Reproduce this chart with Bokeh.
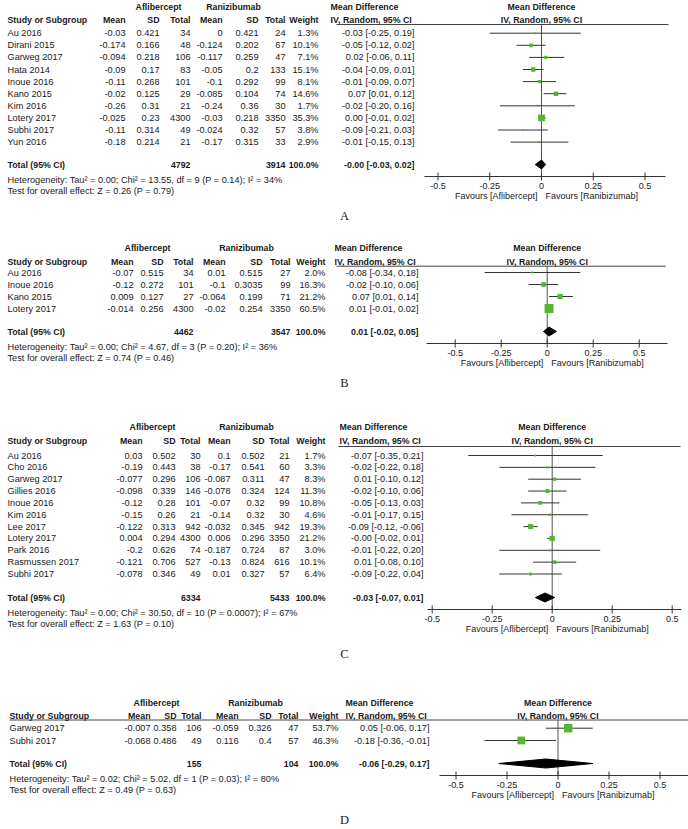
from bokeh.plotting import figure
from bokeh.models import ColumnDataSource, Range1d
from bokeh.core.properties import value
from bokeh.embed import file_html
from bokeh.resources import INLINE

# ---------------------------------------------------------------- data
TICKS = [-0.5, -0.25, 0.0, 0.25, 0.5]
TICK_LABELS = ["-0.5", "-0.25", "0", "0.25", "0.5"]
GROUP_AFL = "Aflibercept"
GROUP_RAN = "Ranizibumab"
FAV_LEFT = "Favours [Aflibercept]"
FAV_RIGHT = "Favours [Ranibizumab]"

# Panel A
A_study = ["Au 2016", "Dirani 2015", "Garweg 2017", "Hata 2014", "Inoue 2016",
           "Kano 2015", "Kim 2016", "Lotery 2017", "Subhi 2017", "Yun 2016"]
A_afl_mean = ["-0.03", "-0.174", "-0.094", "-0.09", "-0.11", "-0.02", "-0.26", "-0.025", "-0.11", "-0.18"]
A_afl_sd = ["0.421", "0.166", "0.218", "0.17", "0.268", "0.125", "0.31", "0.23", "0.314", "0.214"]
A_afl_n = [34, 48, 106, 83, 101, 29, 21, 4300, 49, 21]
A_ran_mean = ["0", "-0.124", "-0.117", "-0.05", "-0.1", "-0.085", "-0.24", "-0.03", "-0.024", "-0.17"]
A_ran_sd = ["0.421", "0.202", "0.259", "0.2", "0.292", "0.104", "0.36", "0.218", "0.32", "0.315"]
A_ran_n = [24, 67, 47, 133, 99, 74, 30, 3350, 57, 33]
A_weight = [1.3, 10.1, 7.1, 15.1, 8.1, 14.6, 1.7, 35.3, 3.8, 2.9]
A_md = [-0.03, -0.05, 0.02, -0.04, -0.01, 0.07, -0.02, 0.00, -0.09, -0.01]
A_lo = [-0.25, -0.12, -0.06, -0.09, -0.09, 0.01, -0.20, -0.01, -0.21, -0.15]
A_hi = [0.19, 0.02, 0.11, 0.01, 0.07, 0.12, 0.16, 0.02, 0.03, 0.13]
A_tot_afl_n, A_tot_ran_n = 4792, 3914
A_tot_md, A_tot_lo, A_tot_hi = -0.0, -0.03, 0.02
A_het = "Heterogeneity: Tau\u00b2 = 0.00; Chi\u00b2 = 13.55, df = 9 (P = 0.14); I\u00b2 = 34%"
A_test = "Test for overall effect: Z = 0.26 (P = 0.79)"

# Panel B
B_study = ["Au 2016", "Inoue 2016", "Kano 2015", "Lotery 2017"]
B_afl_mean = ["-0.07", "-0.12", "0.009", "-0.014"]
B_afl_sd = ["0.515", "0.272", "0.127", "0.256"]
B_afl_n = [34, 101, 27, 4300]
B_ran_mean = ["0.01", "-0.1", "-0.064", "-0.02"]
B_ran_sd = ["0.515", "0.3035", "0.199", "0.254"]
B_ran_n = [27, 99, 71, 3350]
B_weight = [2.0, 16.3, 21.2, 60.5]
B_md = [-0.08, -0.02, 0.07, 0.01]
B_lo = [-0.34, -0.10, 0.01, -0.01]
B_hi = [0.18, 0.06, 0.14, 0.02]
B_tot_afl_n, B_tot_ran_n = 4462, 3547
B_tot_md, B_tot_lo, B_tot_hi = 0.01, -0.02, 0.05
B_het = "Heterogeneity: Tau\u00b2 = 0.00; Chi\u00b2 = 4.67, df = 3 (P = 0.20); I\u00b2 = 36%"
B_test = "Test for overall effect: Z = 0.74 (P = 0.46)"

# Panel C
C_study = ["Au 2016", "Cho 2016", "Garweg 2017", "Gillies 2016", "Inoue 2016", "Kim 2016",
           "Lee 2017", "Lotery 2017", "Park 2016", "Rasmussen 2017", "Subhi 2017"]
C_afl_mean = ["0.03", "-0.19", "-0.077", "-0.098", "-0.12", "-0.15", "-0.122", "0.004", "-0.2", "-0.121", "-0.078"]
C_afl_sd = ["0.502", "0.443", "0.296", "0.339", "0.28", "0.26", "0.313", "0.294", "0.626", "0.706", "0.346"]
C_afl_n = [30, 38, 106, 146, 101, 21, 942, 4300, 74, 527, 49]
C_ran_mean = ["0.1", "-0.17", "-0.087", "-0.078", "-0.07", "-0.14", "-0.032", "0.006", "-0.187", "-0.13", "0.01"]
C_ran_sd = ["0.502", "0.541", "0.311", "0.324", "0.32", "0.32", "0.345", "0.296", "0.724", "0.824", "0.327"]
C_ran_n = [21, 60, 47, 124, 99, 30, 942, 3350, 87, 616, 57]
C_weight = [1.7, 3.3, 8.3, 11.3, 10.8, 4.6, 19.3, 21.2, 3.0, 10.1, 6.4]
C_md = [-0.07, -0.02, 0.01, -0.02, -0.05, -0.01, -0.09, -0.0, -0.01, 0.01, -0.09]
C_lo = [-0.35, -0.22, -0.10, -0.10, -0.13, -0.17, -0.12, -0.02, -0.22, -0.08, -0.22]
C_hi = [0.21, 0.18, 0.12, 0.06, 0.03, 0.15, -0.06, 0.01, 0.20, 0.10, 0.04]
C_tot_afl_n, C_tot_ran_n = 6334, 5433
C_tot_md, C_tot_lo, C_tot_hi = -0.03, -0.07, 0.01
C_het = "Heterogeneity: Tau\u00b2 = 0.00; Chi\u00b2 = 30.50, df = 10 (P = 0.0007); I\u00b2 = 67%"
C_test = "Test for overall effect: Z = 1.63 (P = 0.10)"

# Panel D
D_study = ["Garweg 2017", "Subhi 2017"]
D_afl_mean = ["-0.007", "-0.068"]
D_afl_sd = ["0.358", "0.486"]
D_afl_n = [106, 49]
D_ran_mean = ["-0.059", "0.116"]
D_ran_sd = ["0.326", "0.4"]
D_ran_n = [47, 57]
D_weight = [53.7, 46.3]
D_md = [0.05, -0.18]
D_lo = [-0.06, -0.36]
D_hi = [0.17, -0.01]
D_tot_afl_n, D_tot_ran_n = 155, 104
D_tot_md, D_tot_lo, D_tot_hi = -0.06, -0.29, 0.17
D_het = "Heterogeneity: Tau\u00b2 = 0.02; Chi\u00b2 = 5.02, df = 1 (P = 0.03); I\u00b2 = 80%"
D_test = "Test for overall effect: Z = 0.49 (P = 0.63)"

# ---------------------------------------------------------------- style
FONT = "Liberation Sans"
SERIF = "Liberation Serif"
FS = "9.2px"
FS_B = "8.8px"
FS_AX = "9px"
INK = "#1a1a1a"
RULE = "#444444"
AXC = "#333333"
CI_COL = "#333333"
ZERO_COL = "#555555"
GREEN = "#52b832"
W, H = 688, 829


def pack(study, am, asd, an, rm, rsd, rn, w, md, lo, hi, tan, trn, tmd, tlo, thi, het, test):
    return dict(study=study, afl_mean=am, afl_sd=asd, afl_n=an, ran_mean=rm, ran_sd=rsd, ran_n=rn,
                weight=w, md=md, lo=lo, hi=hi, tot_afl_n=tan, tot_ran_n=trn,
                tot_md=tmd, tot_lo=tlo, tot_hi=thi, het=het, test=test)


DATA = {
    "A": pack(A_study, A_afl_mean, A_afl_sd, A_afl_n, A_ran_mean, A_ran_sd, A_ran_n, A_weight, A_md, A_lo, A_hi,
              A_tot_afl_n, A_tot_ran_n, A_tot_md, A_tot_lo, A_tot_hi, A_het, A_test),
    "B": pack(B_study, B_afl_mean, B_afl_sd, B_afl_n, B_ran_mean, B_ran_sd, B_ran_n, B_weight, B_md, B_lo, B_hi,
              B_tot_afl_n, B_tot_ran_n, B_tot_md, B_tot_lo, B_tot_hi, B_het, B_test),
    "C": pack(C_study, C_afl_mean, C_afl_sd, C_afl_n, C_ran_mean, C_ran_sd, C_ran_n, C_weight, C_md, C_lo, C_hi,
              C_tot_afl_n, C_tot_ran_n, C_tot_md, C_tot_lo, C_tot_hi, C_het, C_test),
    "D": pack(D_study, D_afl_mean, D_afl_sd, D_afl_n, D_ran_mean, D_ran_sd, D_ran_n, D_weight, D_md, D_lo, D_hi,
              D_tot_afl_n, D_tot_ran_n, D_tot_md, D_tot_lo, D_tot_hi, D_het, D_test),
}

# layout: page-pixel positions of rows / columns, and the pixel scale of each forest
LAYOUT = {
    "A": dict(hdr1=6, hdr2=19.3, line=24, row0=32.7, row_h=12.1, total=164, label=215,
              study_x=7, cols=dict(mean1=125, sd1=159, n1=190, mean2=222, sd2=258, n2=285, weight=318, ci=414),
              afl_c=158, ran_c=233, line_left=336, line_right=668,
              zero=541, scale=207, axis_px=(424, 665)),
    "B": dict(hdr1=247.7, hdr2=261, line=265.7, row0=272, row_h=12.0, total=331, label=382,
              study_x=7, cols=dict(mean1=133, sd1=163, n1=193, mean2=225, sd2=262, n2=290, weight=325, ci=418),
              afl_c=147, ran_c=246, line_left=336, line_right=665,
              zero=546.7, scale=184, axis_px=(426, 667)),
    "C": dict(hdr1=426, hdr2=440.5, line=446, row0=455, row_h=11.85, total=597, label=653,
              study_x=7, cols=dict(mean1=142, sd1=175, n1=200, mean2=230, sd2=264, n2=289, weight=325, ci=423),
              afl_c=152, ran_c=246, line_left=338, line_right=680,
              zero=551.7, scale=240, axis_px=(427, 681)),
    "D": dict(hdr1=702.5, hdr2=715, line=719.5, row0=727.7, row_h=12.3, total=763, label=819,
              study_x=9, cols=dict(mean1=150, sd1=176, n1=201, mean2=238, sd2=271, n2=298, weight=338, ci=429),
              afl_c=156, ran_c=255, line_left=9, line_right=688,
              zero=557.5, scale=204, axis_px=(439, 688)),
}


def ci_str(m, l, h):
    return f"{m:.2f} [{l:.2f}, {h:.2f}]"


def txt(p, xs, ys, texts, align, bold=False, size=None, font=FONT, color=INK, rng="default", dx=0):
    if size is None:
        size = FS_B if bold else FS
    src = ColumnDataSource(dict(x=list(xs), y=list(ys), t=[str(s) for s in texts]))
    p.text(x="x", y="y", text="t", source=src, text_align=align, text_baseline="middle",
           text_font=value(font), text_font_size=value(size), x_offset=dx,
           text_font_style="bold" if bold else "normal", text_color=color, x_range_name=rng)


p = figure(width=W, height=H, x_range=Range1d(0, W), y_range=Range1d(H, 0),
           output_backend="svg", toolbar_location=None, x_axis_location=None, y_axis_location=None,
           min_border=0)
p.grid.visible = False
p.outline_line_color = None
p.background_fill_color = "white"
p.border_fill_color = "white"


def build_panel(letter):
    d = DATA[letter]
    L = LAYOUT[letter]
    n = len(d["study"])
    ys = [L["row0"] + i * L["row_h"] for i in range(n)]
    c = L["cols"]
    ty = L["total"]
    het_y, test_y = ty + 15, ty + 26.5
    axis_y = ty + 12

    # ---------------- table
    txt(p, [L["afl_c"], L["ran_c"]], [L["hdr1"]] * 2, [GROUP_AFL, GROUP_RAN], "center", True)
    ci_hdr = c["ci"] - 84
    txt(p, [ci_hdr] * 2, [L["hdr1"], L["hdr2"]], ["Mean Difference", "IV, Random, 95% CI"], "left", True)
    txt(p, [L["study_x"]], [L["hdr2"]], ["Study or Subgroup"], "left", True)
    keys = ["mean1", "sd1", "n1", "mean2", "sd2", "n2", "weight"]
    txt(p, [c[k] for k in keys], [L["hdr2"]] * 7, ["Mean", "SD", "Total", "Mean", "SD", "Total", "Weight"],
        "right", True)
    p.segment(x0=[L["line_left"]], x1=[L["line_right"]], y0=[L["line"]], y1=[L["line"]],
              line_color=RULE, line_width=1)

    txt(p, [L["study_x"]] * n, ys, d["study"], "left")
    for key, col in [("afl_mean", "mean1"), ("afl_sd", "sd1"), ("afl_n", "n1"),
                     ("ran_mean", "mean2"), ("ran_sd", "sd2"), ("ran_n", "n2")]:
        txt(p, [c[col]] * n, ys, d[key], "right")
    txt(p, [c["weight"]] * n, ys, [f"{w:.1f}%" for w in d["weight"]], "right")
    txt(p, [c["ci"]] * n, ys, [ci_str(m, l, h) for m, l, h in zip(d["md"], d["lo"], d["hi"])], "right")

    txt(p, [L["study_x"]], [ty], ["Total (95% CI)"], "left", True)
    txt(p, [c["n1"], c["n2"], c["weight"], c["ci"]], [ty] * 4,
        [d["tot_afl_n"], d["tot_ran_n"], f"{sum(d['weight']):.1f}%",
         ci_str(d["tot_md"], d["tot_lo"], d["tot_hi"])], "right", True)
    txt(p, [L["study_x"]] * 2, [het_y, test_y], [d["het"], d["test"]], "left")
    txt(p, [344], [L["label"]], [letter], "center", size="12.5px", font=SERIF)

    # ---------------- forest (own scale: mean difference units)
    z, s = L["zero"], L["scale"]
    rn = "md" + letter
    p.extra_x_ranges[rn] = Range1d((0 - z) / s, (W - z) / s)
    a0, a1 = [(v - z) / s for v in L["axis_px"]]

    txt(p, [0, 0], [L["hdr1"], L["hdr2"]], ["Mean Difference", "IV, Random, 95% CI"], "center", True, rng=rn)
    p.segment(x0=[0], x1=[0], y0=[L["line"]], y1=[axis_y], line_color=ZERO_COL, line_width=1, x_range_name=rn)

    p.segment(x0=d["lo"], x1=d["hi"], y0=ys, y1=ys, line_color=CI_COL, line_width=1, x_range_name=rn)
    sizes = [max(2.0, 1.15 * (w ** 0.5)) for w in d["weight"]]
    p.scatter(x=d["md"], y=ys, size=sizes, marker="square", fill_color=GREEN, line_color=None, x_range_name=rn)
    dh = 4.5
    p.patch(x=[d["tot_lo"], d["tot_md"], d["tot_hi"], d["tot_md"]], y=[ty, ty - dh, ty, ty + dh],
            fill_color="black", line_color="black", line_width=1, x_range_name=rn)

    # axis: line, crossing ticks, tick labels, favours labels
    p.segment(x0=[a0], x1=[a1], y0=[axis_y], y1=[axis_y], line_color=AXC, line_width=1, x_range_name=rn)
    nt = len(TICKS)
    p.segment(x0=TICKS, x1=TICKS, y0=[axis_y - 4] * nt, y1=[axis_y + 4] * nt,
              line_color=AXC, line_width=1, x_range_name=rn)
    txt(p, TICKS, [axis_y + 9] * nt, TICK_LABELS, "center", size=FS_AX, rng=rn)
    txt(p, [0], [axis_y + 19], [FAV_LEFT], "right", size=FS_AX, rng=rn, dx=-4)
    txt(p, [0], [axis_y + 19], [FAV_RIGHT], "left", size=FS_AX, rng=rn, dx=4)


for k in ["A", "B", "C", "D"]:
    build_panel(k)

open("out.html", "w").write(file_html(p, INLINE))
